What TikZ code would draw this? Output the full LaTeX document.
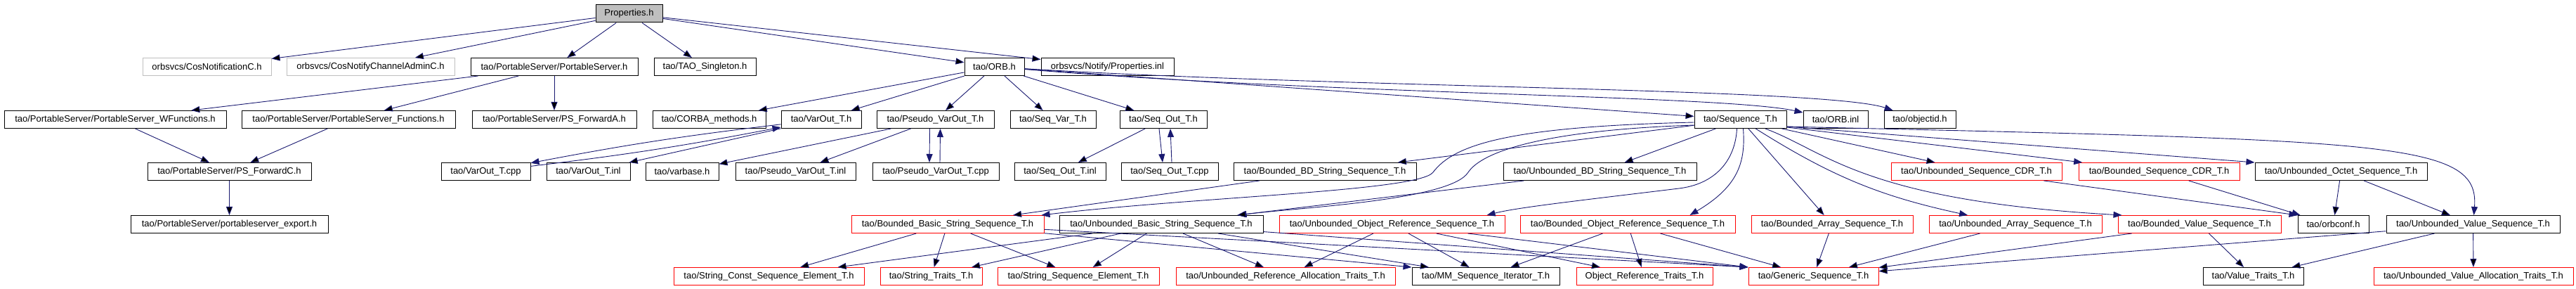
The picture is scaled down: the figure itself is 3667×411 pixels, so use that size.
\documentclass[tikz,border=0pt]{standalone}
\usepackage{fontspec}
\setmainfont{Liberation Sans}
\usetikzlibrary{arrows.meta}
\definecolor{edgeblue}{RGB}{25,25,112}
\definecolor{boxgray}{RGB}{191,191,191}

\begin{document}
\begin{tikzpicture}[x=1pt,y=-1pt,
    file node/.style={draw,rectangle,line width=1pt,minimum height=25pt,inner sep=0pt,font=\fontsize{13}{15}\selectfont},
    red node/.style={file node,draw=red},
    gray node/.style={file node,draw=boxgray},
    boxw/.style={minimum width=#1pt},
    dep/.style={draw=edgeblue,line width=0.9pt,-{Triangle[length=12pt,width=9pt]}}]
        \useasboundingbox (0,0) rectangle (3667,411);
        % top
        \node [file node, boxw=95, fill=boxgray] (props) at (895.5,19.5) {Properties.h};
        % row 1
        \node [gray node, boxw=183] (cosnotif) at (294.5,95) {orbsvcs/CosNotificationC.h};
        \node [gray node, boxw=239] (cosadmin) at (527.5,95) {orbsvcs/CosNotifyChannelAdminC.h};
        \node [file node, boxw=238] (psrv) at (789,95) {tao/PortableServer/PortableServer.h};
        \node [file node, boxw=145] (singleton) at (1003.5,95) {tao/TAO\_Singleton.h};
        \node [file node, boxw=85] (orb) at (1415.5,95) {tao/ORB.h};
        \node [file node, boxw=189] (propsinl) at (1576.5,95) {orbsvcs/Notify/Properties.inl};
        % row 2
        \node [file node, boxw=316] (wfunc) at (164,170) {tao/PortableServer/PortableServer\_WFunctions.h};
        \node [file node, boxw=304] (func) at (496,170) {tao/PortableServer/PortableServer\_Functions.h};
        \node [file node, boxw=234] (psfwda) at (789,170) {tao/PortableServer/PS\_ForwardA.h};
        \node [file node, boxw=161] (corba) at (1009.5,170) {tao/CORBA\_methods.h};
        \node [file node, boxw=114] (varout) at (1169,170) {tao/VarOut\_T.h};
        \node [file node, boxw=167] (pvarout) at (1331.5,170) {tao/Pseudo\_VarOut\_T.h};
        \node [file node, boxw=122] (seqvar) at (1499,170) {tao/Seq\_Var\_T.h};
        \node [file node, boxw=124] (seqout) at (1656,170) {tao/Seq\_Out\_T.h};
        \node [file node, boxw=131] (seqt) at (2477.5,170) {tao/Sequence\_T.h};
        \node [file node, boxw=92] (orbinl) at (2613,170) {tao/ORB.inl};
        \node [file node, boxw=102] (objectid) at (2733,170) {tao/objectid.h};
        % row 3
        \node [file node, boxw=233] (psfwdc) at (326.5,244) {tao/PortableServer/PS\_ForwardC.h};
        \node [file node, boxw=127] (varoutcpp) at (691.5,244) {tao/VarOut\_T.cpp};
        \node [file node, boxw=119] (varoutinl) at (837.5,244) {tao/VarOut\_T.inl};
        \node [file node, boxw=104] (varbase) at (971,244) {tao/varbase.h};
        \node [file node, boxw=171] (pvaroutinl) at (1132.5,244) {tao/Pseudo\_VarOut\_T.inl};
        \node [file node, boxw=180] (pvaroutcpp) at (1332,244) {tao/Pseudo\_VarOut\_T.cpp};
        \node [file node, boxw=130] (seqoutinl) at (1509,244) {tao/Seq\_Out\_T.inl};
        \node [file node, boxw=138] (seqoutcpp) at (1665,244) {tao/Seq\_Out\_T.cpp};
        \node [file node, boxw=260] (bbdstr) at (1886,244) {tao/Bounded\_BD\_String\_Sequence\_T.h};
        \node [file node, boxw=275] (ubdstr) at (2277.5,244) {tao/Unbounded\_BD\_String\_Sequence\_T.h};
        \node [red node, boxw=243] (ucdr) at (2813.5,244) {tao/Unbounded\_Sequence\_CDR\_T.h};
        \node [red node, boxw=229] (bcdr) at (3073.5,244) {tao/Bounded\_Sequence\_CDR\_T.h};
        \node [file node, boxw=245] (uoctet) at (3332.5,244) {tao/Unbounded\_Octet\_Sequence\_T.h};
        % row 4
        \node [file node, boxw=281] (psexport) at (326.5,319) {tao/PortableServer/portableserver\_export.h};
        \node [red node, boxw=274] (bbasic) at (1349,319) {tao/Bounded\_Basic\_String\_Sequence\_T.h};
        \node [file node, boxw=290] (ubasic) at (1653,319) {tao/Unbounded\_Basic\_String\_Sequence\_T.h};
        \node [red node, boxw=321] (uobjref) at (1981.5,319) {tao/Unbounded\_Object\_Reference\_Sequence\_T.h};
        \node [red node, boxw=306] (bobjref) at (2317,319) {tao/Bounded\_Object\_Reference\_Sequence\_T.h};
        \node [red node, boxw=230] (barray) at (2608,319) {tao/Bounded\_Array\_Sequence\_T.h};
        \node [red node, boxw=246] (uarray) at (2869,319) {tao/Unbounded\_Array\_Sequence\_T.h};
        \node [red node, boxw=232] (bvalue) at (3131,319) {tao/Bounded\_Value\_Sequence\_T.h};
        \node [file node, boxw=101] (orbconf) at (3321.5,319) {tao/orbconf.h};
        \node [file node, boxw=247] (uvalue) at (3520.5,319) {tao/Unbounded\_Value\_Sequence\_T.h};
        % row 5
        \node [red node, boxw=271] (strconst) at (1094.5,393) {tao/String\_Const\_Sequence\_Element\_T.h};
        \node [red node, boxw=145] (strtraits) at (1325.5,393) {tao/String\_Traits\_T.h};
        \node [red node, boxw=230] (strelem) at (1535,393) {tao/String\_Sequence\_Element\_T.h};
        \node [red node, boxw=312] (urefalloc) at (1830,393) {tao/Unbounded\_Reference\_Allocation\_Traits\_T.h};
        \node [file node, boxw=210] (mmiter) at (2115,393) {tao/MM\_Sequence\_Iterator\_T.h};
        \node [red node, boxw=194] (objreftraits) at (2341,393) {Object\_Reference\_Traits\_T.h};
        \node [red node, boxw=185] (generic) at (2581.5,393) {tao/Generic\_Sequence\_T.h};
        \node [file node, boxw=143] (valuetraits) at (3207.5,393) {tao/Value\_Traits\_T.h};
        \node [red node, boxw=284] (uvalalloc) at (3521,393) {tao/Unbounded\_Value\_Allocation\_Traits\_T.h};
        % Properties.h
        \path [dep] (props) edge (cosnotif);
        \path [dep] (props) edge (cosadmin);
        \path [dep] (props) edge (psrv);
        \path [dep] (props) edge (singleton);
        \path [dep] (props) edge (orb);
        \path [dep] (props) edge (propsinl);
        % PortableServer
        \path [dep] (psrv) edge (wfunc);
        \path [dep] (psrv) edge (func);
        \path [dep] (psrv) edge (psfwda);
        \path [dep] (wfunc) edge (psfwdc);
        \path [dep] (func) edge (psfwdc);
        \path [dep] (psfwdc) edge (psexport);
        % ORB.h
        \path [dep] (orb) edge (corba);
        \path [dep] (orb) edge (varout);
        \path [dep] (orb) edge (pvarout);
        \path [dep] (orb) edge (seqvar);
        \path [dep] (orb) edge (seqout);
        \path [dep] (orb) edge (seqt);
        \draw [dep] (orb) .. controls (1900,135) and (2450,135) .. (orbinl);
        \draw [dep] (orb) .. controls (1900,125) and (2600,125) .. (objectid);
        % VarOut and friends
        \draw [dep] (varout) to[bend right=2] (varoutcpp);
        \draw [dep] (varoutcpp) to[bend right=2] (varout);
        \path [dep] (varout) edge (varoutinl);
        \path [dep] (pvarout) edge (varbase);
        \path [dep] (pvarout) edge (pvaroutinl);
        \draw [dep] ([xshift=-8pt]pvarout.south) -- ([xshift=-9pt]pvaroutcpp.north);
        \draw [dep] ([xshift=6pt]pvaroutcpp.north) -- ([xshift=7pt]pvarout.south);
        \path [dep] (seqout) edge (seqoutinl);
        \draw [dep] ([xshift=-6pt]seqout.south) -- ([xshift=-10pt]seqoutcpp.north);
        \draw [dep] ([xshift=3pt]seqoutcpp.north) -- ([xshift=10pt]seqout.south);
        % Sequence_T.h
        \path [dep] (seqt) edge (bbdstr);
        \path [dep] (seqt) edge (ubdstr);
        \draw [dep] ([yshift=-4pt]seqt.west) .. controls (2150,180) and (2070,205) .. (2040,245)
            .. controls (2020,272) and (1700,280) .. ([xshift=-4pt]bbasic.north east);
        \draw [dep] ([yshift=-8pt]seqt.west) .. controls (2200,185) and (2110,215) .. (2090,245)
            .. controls (2065,285) and (1850,295) .. ([xshift=-36pt]ubasic.north east);
        \draw [dep] ([xshift=-5pt]seqt.south) .. controls (2470,230) and (2440,262) .. (2390,268)
            .. controls (2250,285) and (2160,295) .. ([xshift=-26pt]uobjref.north east);
        \draw [dep] ([xshift=4pt]seqt.south) .. controls (2485,230) and (2475,265) .. ([xshift=-65pt]bobjref.north east);
        \path [dep] (seqt) edge (barray);
        \draw [dep] (seqt) to[bend right=10] (uarray);
        \draw [dep] (seqt) .. controls (2600,215) and (2650,285) .. ([xshift=6pt]bvalue.north west);
        \path [dep] (seqt) edge (ucdr);
        \draw [dep] ([yshift=-11pt]seqt.east) -- (bcdr);
        \draw [dep] ([yshift=-10pt]seqt.east) -- (uoctet.north west);
        \draw [dep] ([yshift=-10pt]seqt.east) .. controls (3400,200) and (3530,200) .. (uvalue);
        \path [dep] (bbdstr) edge (bbasic);
        \path [dep] (ubdstr) edge (ubasic);
        % string sequences
        \path [dep] (bbasic) edge (strconst);
        \path [dep] (ubasic) edge (strconst);
        \path [dep] (bbasic) edge (strtraits);
        \path [dep] (ubasic) edge (strtraits);
        \path [dep] (bbasic) edge (strelem);
        \path [dep] (ubasic) edge (strelem);
        \path [dep] (ubasic) edge (urefalloc);
        \draw [dep] (bbasic) -- (mmiter.north west);
        \path [dep] (ubasic) edge (mmiter);
        \draw [dep] (bbasic) -- (generic.north west);
        \draw [dep] (ubasic) -- (generic.north west);
        % object reference sequences
        \path [dep] (uobjref) edge (urefalloc);
        \path [dep] (uobjref) edge (mmiter);
        \path [dep] (uobjref) edge (objreftraits);
        \draw [dep] (uobjref) -- (generic.north west);
        \path [dep] (bobjref) edge (mmiter);
        \path [dep] (bobjref) edge (objreftraits);
        \path [dep] (bobjref) edge (generic);
        % array and value sequences
        \path [dep] (barray) edge (generic);
        \path [dep] (uarray) edge (generic);
        \path [dep] (bvalue) edge (generic);
        \path [dep] (uvalue) edge (generic);
        \path [dep] (bvalue) edge (valuetraits);
        \path [dep] (uvalue) edge (valuetraits);
        \path [dep] (uvalue) edge (uvalalloc);
        % orbconf
        \draw [dep] (ucdr) -- (orbconf.north west);
        \draw [dep] (bcdr) -- ([xshift=4pt]orbconf.north west);
        \path [dep] (uoctet) edge (orbconf);
        \path [dep] (uoctet) edge (uvalue);
    \end{tikzpicture}
\end{document}
